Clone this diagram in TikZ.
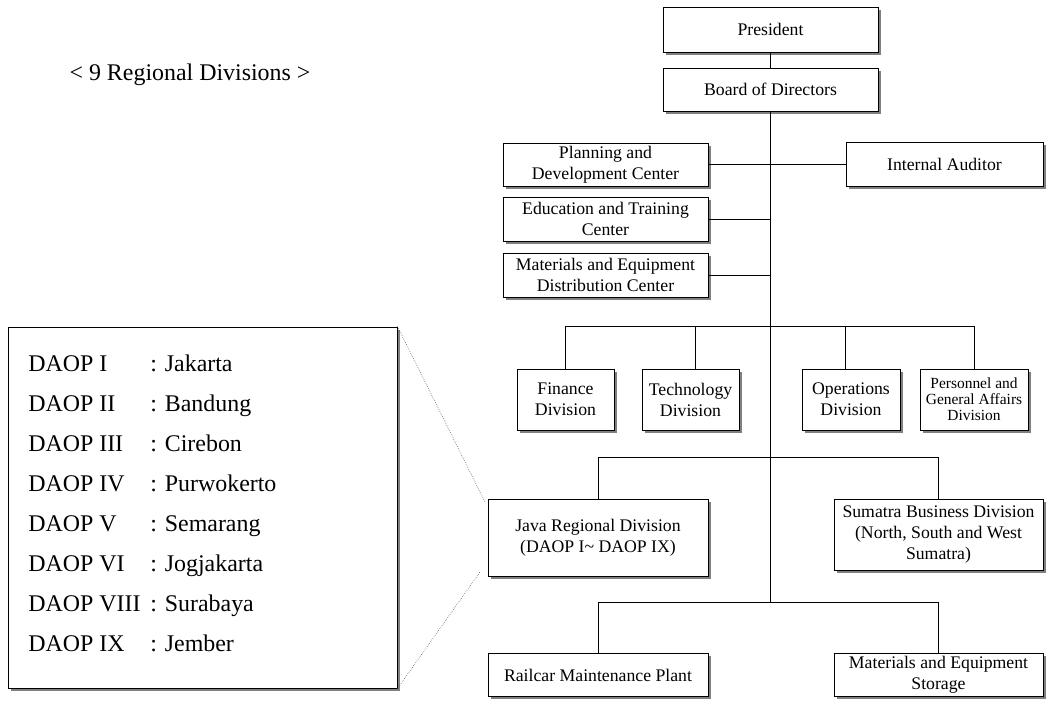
\documentclass[tikz,border=0pt]{standalone}
\usepackage{fontspec}
\setmainfont{Liberation Serif}
\usetikzlibrary{shadows}
\newcommand{\boxfont}{\fontsize{12.6}{15}\selectfont}
\newcommand{\smallboxfont}{\fontsize{11}{11.5}\selectfont}
\newcommand{\listfont}{\fontsize{17}{20}\selectfont}

\begin{document}
\begin{tikzpicture}[
  x=0.025cm,
  y=-0.025cm,
  every node/.style={font=\boxfont},
  orgbox/.style={draw, fill=white, line width=0.6pt, align=center, inner sep=0pt,
                 drop shadow={shadow xshift=0.07cm, shadow yshift=-0.07cm,
                              fill=black!50, opacity=1}},
  link/.style={line width=0.6pt},
  zoomline/.style={black!75, line width=0.4pt, densely dotted}
]
  \useasboundingbox (0,0) rectangle (1047,700);

  % ---- top of the chart ------------------------------------------------
  \node[orgbox, minimum width=5.375cm, minimum height=1.125cm] (pres)
    at (770.5,29.5) {President};
  \node[orgbox, minimum width=5.375cm, minimum height=1.075cm] (board)
    at (770.5,89.5) {Board of Directors};

  % ---- staff centres and auditor ---------------------------------------
  \node[orgbox, minimum width=5.125cm, minimum height=1.075cm] (plan)
    at (605.5,164.5) {Planning and\\Development Center};
  \node[orgbox, minimum width=4.925cm, minimum height=1.1cm] (aud)
    at (944.5,164.5) {Internal Auditor};
  \node[orgbox, minimum width=5.125cm, minimum height=1.1cm] (edu)
    at (605.5,219) {Education and Training\\Center};
  \node[orgbox, minimum width=5.125cm, minimum height=1.1cm] (mat)
    at (605.5,275) {Materials and Equipment\\Distribution Center};

  % ---- divisions ---------------------------------------------------------
  \node[orgbox, minimum width=2.425cm, minimum height=1.525cm] (fin)
    at (565.5,399.5) {Finance\\Division};
  \node[orgbox, minimum width=2.425cm, minimum height=1.525cm] (tech)
    at (690.5,399.5) {Technology\\Division};
  \node[orgbox, minimum width=2.45cm, minimum height=1.525cm] (ops)
    at (851,399.5) {Operations\\Division};
  \node[orgbox, minimum width=2.7cm, minimum height=1.525cm, font=\smallboxfont]
    (pers) at (974,399.5) {Personnel and\\General Affairs\\Division};

  % ---- regional divisions and plants -------------------------------------
  \node[orgbox, minimum width=5.5cm, minimum height=1.925cm] (java)
    at (598,537.5) {Java Regional Division\\(DAOP I\textasciitilde{} DAOP IX)};
  \node[orgbox, minimum width=5.225cm, minimum height=1.775cm] (sum)
    at (938.5,534.5) {Sumatra Business Division\\(North, South and West\\Sumatra)};
  \node[orgbox, minimum width=5.5cm, minimum height=1.075cm] (rail)
    at (598,675) {Railcar Maintenance Plant};
  \node[orgbox, minimum width=5.225cm, minimum height=1.075cm] (store)
    at (938.5,675) {Materials and Equipment\\Storage};

  % ---- connectors -------------------------------------------------------
  \coordinate (bus1) at (770.5,326);
  \coordinate (bus2) at (770.5,457);
  \coordinate (bus3) at (770.5,602);
  \draw[link] (pres) -- (board);
  \draw[link] (board) -- (bus3);
  \draw[link] (plan.east) -- (aud.west);
  \draw[link] (edu.east) -- (edu.east -| bus1);
  \draw[link] (mat.east) -- (mat.east -| bus1);
  \draw[link] (fin.north) |- (bus1) -| (pers.north);
  \draw[link] ([xshift=0.13cm]tech.north) -- ([xshift=0.13cm]tech.north |- bus1);
  \draw[link] ([xshift=-0.13cm]ops.north) -- ([xshift=-0.13cm]ops.north |- bus1);
  \draw[link] (java.north) |- (bus2) -| (sum.north);
  \draw[link] (rail.north) |- (bus3) -| (store.north);

  % ---- the nine regional divisions ---------------------------------------
  \node[font=\listfont] (title) at (190,75) {< 9 Regional Divisions >};
  \node[orgbox, minimum width=9.725cm, minimum height=9.025cm] (daop)
    at (202.5,507.5) {};
  \foreach \d/\c [count=\i from 0] in {I/Jakarta, II/Bandung, III/Cirebon,
      IV/Purwokerto, V/Semarang, VI/Jogjakarta, VIII/Surabaya, IX/Jember} {
    \node[anchor=base west, inner sep=0pt, font=\listfont] (dname\i)
      at (28,371+40*\i) {DAOP \d};
    \node[anchor=base west, inner sep=0pt, font=\listfont] (dcity\i)
      at (150,371+40*\i) {: \c};
  }
  \coordinate (zoomtop) at (485,502);
  \coordinate (zoombot) at (480,572);
  \draw[zoomline] (daop.north east) -- (zoomtop);
  \draw[zoomline] (daop.south east) -- (zoombot);
\end{tikzpicture}
\end{document}
